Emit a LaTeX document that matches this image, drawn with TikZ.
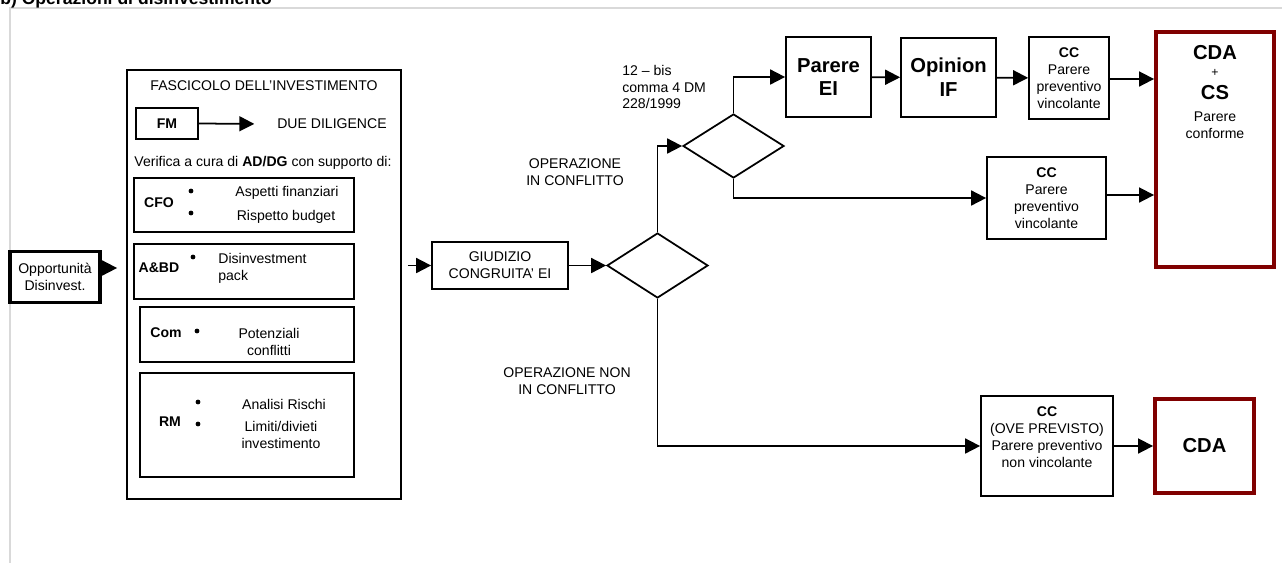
\documentclass[tikz,border=0pt]{standalone}
\usepackage{fontspec}
\setmainfont{Liberation Sans}
\usetikzlibrary{arrows.meta,shapes.geometric,positioning}
\definecolor{cdared}{RGB}{128,0,0}

\begin{document}
\fontsize{8}{9.6}\selectfont
\begin{tikzpicture}[x=0.2mm,y=-0.2mm,>={Triangle[length=8.5pt,width=8.5pt]},
  box/.style={draw,line width=1pt,inner sep=0pt,align=center},
  redbox/.style={draw=cdared,line width=2.2pt,inner sep=0pt,align=center},
  dia/.style={draw,diamond,line width=1pt,inner sep=0pt,minimum width=20.2mm,minimum height=13mm},
  big/.style={font=\fontsize{11.5}{13.6}\selectfont\bfseries},
  arr/.style={->,line width=1pt}]
  \useasboundingbox (0,0) rectangle (1282,563);

  % frame and title
  \draw[gray!30,line width=1pt] (1282,8) -- (10,8) -- (10,563);
  \node[anchor=base west,inner sep=0pt,font=\fontsize{10}{12}\selectfont\bfseries] (title) at (0,4) {b) Operazioni di disinvestimento};

  % start
  \node[box,line width=2pt,minimum width=18mm,minimum height=10.2mm] (opp) at (55,277) {Opportunità\\Disinvest.};

  % fascicolo
  \node[box,minimum width=54.8mm,minimum height=85.8mm] (fasc) at (264,284.5) {};
  \node (ftit) at (264,86) {FASCICOLO DELL’INVESTIMENTO};
  \node[box,minimum width=12.4mm,minimum height=6.2mm,font=\bfseries] (fm) at (167,123.5) {FM};
  \node (dd) at (332,124) {DUE DILIGENCE};
  \draw[arr,shorten >=3.6mm] (fm.east) -- (dd.west);
  \node (verif) at (263,163) {Verifica a cura di \textbf{AD/DG} con supporto di:};

  \node[box,minimum width=44mm,minimum height=10.8mm] (cfo) at (244,205) {};
  \node[font=\bfseries] (cfot) at (159,203) {CFO};
  \fill (191,191) circle (2.4);
  \fill (191,213) circle (2.4);
  \node (cfo1) at (287,193) {Aspetti finanziari};
  \node (cfo2) at (286,217) {Rispetto budget};

  \node[box,minimum width=44mm,minimum height=11mm] (abd) at (244,271.5) {};
  \node[font=\bfseries] (abdt) at (159,268) {A\&BD};
  \fill (193,257) circle (2.4);
  \node[anchor=west,align=left,inner sep=0pt] (abd1) at (218,268.5) {Disinvestment\\pack};

  \node[box,minimum width=42.8mm,minimum height=11mm] (com) at (247,334.5) {};
  \node[font=\bfseries] (comt) at (166,333) {Com};
  \fill (197,331) circle (2.4);
  \node[align=center] (com1) at (269,342) {Potenziali\\conflitti};

  \node[box,minimum width=42.8mm,minimum height=20.8mm] (rm) at (247,425) {};
  \node[font=\bfseries] (rmt) at (170,422) {RM};
  \fill (198,402) circle (2.4);
  \fill (198,424) circle (2.4);
  \node (rm1) at (284,404) {Analisi Rischi};
  \node[align=center] (rm2) at (281,435) {Limiti/divieti\\investimento};

  \draw[arr,shorten >=1.8mm] (opp.east |- 0,268) -- (fasc.west |- 0,268);

  % giudizio and decisions
  \node[box,minimum width=27.2mm,minimum height=9.4mm] (giud) at (500,265.5) {GIUDIZIO\\CONGRUITA’ EI};
  \node[dia] (d1) at (657.5,265.5) {};
  \node[dia,minimum height=12.8mm] (d2) at (733.5,146) {};
  \draw[arr,shorten <=1.2mm] (fasc.east |- giud.west) -- (giud.west);
  \draw[arr] (giud.east) -- (d1.west);
  \draw[arr] (d1.north) |- (d2.west);

  \node[anchor=west,align=left,inner sep=0pt] (norma) at (622,87) {12 -- bis\\comma 4 DM\\228/1999};
  \node[align=center] (conf) at (575,172.5) {OPERAZIONE\\IN CONFLITTO};
  \node[align=center] (nconf) at (567,381.5) {OPERAZIONE NON\\IN CONFLITTO};

  % conflict branch
  \node[box,big,minimum width=17mm,minimum height=16mm] (pei) at (828.5,77) {Parere\\EI};
  \node[box,big,minimum width=19mm,minimum height=15.8mm] (oif) at (948.5,77.5) {Opinion\\IF};
  \node[box,minimum width=16mm,minimum height=16.4mm] (cc1) at (1069,78) {\textbf{CC}\\Parere\\preventivo\\vincolante};
  \node[box,minimum width=23.8mm,minimum height=16.4mm] (cc2) at (1046.5,198) {\textbf{CC}\\Parere\\preventivo\\vincolante};
  \node[redbox,minimum width=23.6mm,minimum height=47mm] (cdacs) at (1215,149.5) {};
  \node[big] (cdat) at (1215,53) {CDA};
  \node[font=\fontsize{7}{8}\selectfont] (plus) at (1215,73) {+};
  \node[big] (cst) at (1215,93) {CS};
  \node[align=center] (cdap) at (1215,125) {Parere\\conforme};

  \draw[arr] (d2.north) |- (pei.west);
  \draw[arr] (pei) -- (oif);
  \draw[arr] (oif) -- (cc1);
  \draw[arr] (cc1.east |- 0,79) -- (cdacs.west |- 0,79);
  \draw[arr] (d2.south) |- (cc2.west);
  \draw[arr] (cc2.east |- 0,195) -- (cdacs.west |- 0,195);

  % no conflict branch
  \node[box,minimum width=26.4mm,minimum height=20mm] (cc3) at (1047,446) {};
  \node[align=center] (cc3t) at (1047,437) {\textbf{CC}\\(OVE PREVISTO)\\Parere preventivo\\non vincolante};
  \node[redbox,big,minimum width=19.8mm,minimum height=18.8mm] (cda) at (1204.5,446) {CDA};
  \draw[arr] (d1.south) |- (cc3.west);
  \draw[arr] (cc3) -- (cda);
\end{tikzpicture}
\end{document}
